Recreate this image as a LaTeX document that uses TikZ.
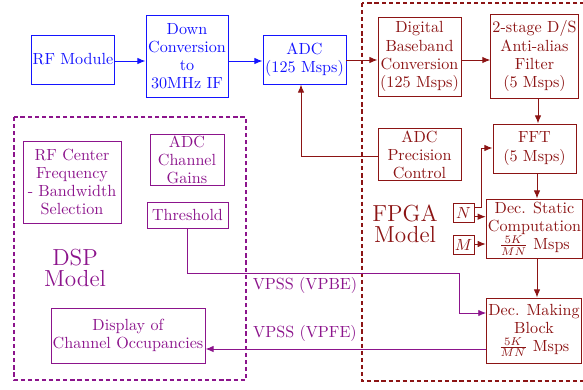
\documentclass[tikz,border=0pt]{standalone}
\usetikzlibrary{arrows.meta,calc}
\definecolor{rfblue}{RGB}{20,20,255}
\definecolor{fpgared}{RGB}{140,20,20}
\definecolor{dsppurple}{RGB}{140,20,140}
\tikzset{
  wh/.style 2 args={minimum width=#1*0.62pt, minimum height=#2*0.62pt},
  blk/.style={draw, line width=0.6pt, align=center, inner sep=1pt,
              font=\fontsize{10}{11.2}\selectfont},
  bluebox/.style={blk, draw=rfblue, text=rfblue},
  redbox/.style={blk, draw=fpgared, text=fpgared},
  purplebox/.style={blk, draw=dsppurple, text=dsppurple},
  arr/.style={line width=0.6pt, -{Latex[length=5pt,width=4pt]}},
  bluearr/.style={arr, draw=rfblue},
  redarr/.style={arr, draw=fpgared},
  purplearr/.style={arr, draw=dsppurple},
  region/.style={line width=0.65pt, dash pattern=on 2.6pt off 1.8pt},
  bigtitle/.style={align=center, font=\fontsize{14.4}{13}\selectfont}
}
\begin{document}
\begin{tikzpicture}[x=0.62pt, y=-0.62pt]
\useasboundingbox (0,0) rectangle (583,389);
\clip (0,0) rectangle (583,389);

% dashed regions
\draw[region, draw=fpgared] (362,3) rectangle (592,381);
\draw[region, draw=dsppurple] (14,117) rectangle (246,380);

% RF front end
\node[bluebox, wh={82}{49}] (rf) at (73,59.5) {RF Module};
\node[bluebox, wh={82}{82}] (down) at (187,56) {Down\\Conversion\\to\\30MHz IF};
\node[bluebox, wh={83}{49}] (adc) at (304.5,59.5) {ADC\\(125 Msps)};

% FPGA blocks
\node[redbox, wh={83}{79}] (dbb) at (419.5,56.5) {Digital\\Baseband\\Conversion\\(125 Msps)};
\node[redbox, wh={85}{84}] (aaf) at (534.5,56) {2-stage D/S\\Anti-alias\\Filter\\(5 Msps)};
\node[redbox, wh={83}{49}] (fft) at (534.5,148.5) {FFT\\(5 Msps)};
\node[redbox, wh={83}{49}] (apc) at (419.5,154.5) {ADC\\Precision\\Control};
\node[redbox, wh={21}{19}] (nbox) at (463.5,212.5) {$N$};
\node[redbox, wh={21}{19}] (mbox) at (463.5,245) {$M$};
\node[redbox, wh={95}{59}] (dsc) at (534.5,228.5) {Dec. Static\\Computation\\$\frac{5K}{MN}$ Msps};
\node[redbox, wh={94}{65}] (dmb) at (534,330.5) {Dec. Making\\Block\\$\frac{5K}{MN}$ Msps};
\node[bigtitle, text=fpgared] (fpgalbl) at (405,224) {FPGA\\Model};

% DSP blocks
\node[purplebox, wh={98}{82}] (rfc) at (72,182) {RF Center\\Frequency\\- Bandwidth\\Selection};
\node[purplebox, wh={74}{50}] (gains) at (187,160) {ADC\\Channel\\Gains};
\node[purplebox, wh={81}{26}] (thr) at (187.5,215) {Threshold};
\node[purplebox, wh={154}{55}] (disp) at (128,335.5) {Display of\\Channel Occupancies};
\node[bigtitle, text=dsppurple] (dsplbl) at (75,268) {DSP\\Model};

% connectors
\draw[bluearr] (rf.east |- 0,61) -- (down.west |- 0,61);
\draw[bluearr] (down.east |- 0,61) -- (adc.west |- 0,61);
\draw[redarr] (adc.east |- 0,60) -- (dbb.west |- 0,60);
\draw[redarr] (dbb.east |- 0,60) -- (aaf.west |- 0,60);
\draw[redarr] (aaf.south -| 538,0) -- (fft.north -| 538,0);
\draw[redarr] (apc.west |- 0,156) -| (adc.south -| 301,0);
\draw[redarr] (nbox.east |- 0,207) -- (481,207) |- (fft.west |- 0,148);
\draw[redarr] (nbox.east |- 0,216.7) -- (dsc.west |- 0,216.7);
\draw[redarr] (mbox.east |- 0,244) -- (dsc.west |- 0,244);
\draw[redarr] (fft.south -| 537,0) -- (dsc.north -| 537,0);
\draw[redarr] (dsc.south -| 537,0) -- (dmb.north -| 537,0);
\draw[purplearr] (thr.south) |- (459,273) |- (dmb.west |- 0,313);
\draw[purplearr] (dmb.west |- 0,349) -- (disp.east |- 0,349);

% interface labels
\node[text=dsppurple, font=\fontsize{10}{12}\selectfont] (vpbe) at (305,285) {VPSS (VPBE)};
\node[text=dsppurple, font=\fontsize{10}{12}\selectfont] (vpfe) at (305,333) {VPSS (VPFE)};
\end{tikzpicture}
\end{document}
